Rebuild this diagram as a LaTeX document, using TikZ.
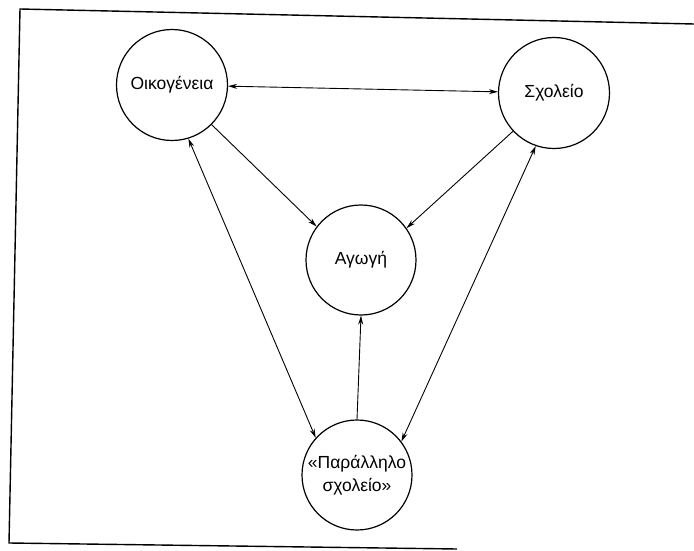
\documentclass[tikz,border=0pt]{standalone}
\usepackage{fontspec}
\setmainfont{Liberation Sans}
\usetikzlibrary{arrows.meta}

\begin{document}
\begin{tikzpicture}[x=1pt,y=-1pt,
  circ/.style={draw,circle,line width=1.2pt,inner sep=0pt,minimum size=111pt,align=center,font=\fontsize{17.5}{23}\selectfont},
  arr/.style={line width=0.9pt,-{Stealth[length=9pt,width=5pt]}},
  dbl/.style={line width=0.9pt,{Stealth[length=9pt,width=5pt]}-{Stealth[length=9pt,width=5pt]}}]
\useasboundingbox (0,0) rectangle (694,551);
% frame
\draw[line width=1.4pt] (694,24) -- (20,9) -- (9,543) -- (457,549);
% nodes
\node[circ] (oik) at (172,85) {Οικογένεια};
\node[circ] (sch) at (554,93) {Σχολείο};
\node[circ,minimum size=110pt] (agogi) at (361,260) {Αγωγή};
\node[circ,minimum size=110pt] (par) at (357,475) {«Παράλληλο\\σχολείο»};
% connectors
\draw[dbl](oik)--(sch);
\draw[arr](oik.-45)--(agogi.143);\draw[arr](sch.223)--(agogi.35);
\draw[arr](par.north)--(agogi.south);
\draw[dbl](oik.287)--(par.138);\draw[dbl](sch.251)--(par.37);
\end{tikzpicture}
\end{document}
